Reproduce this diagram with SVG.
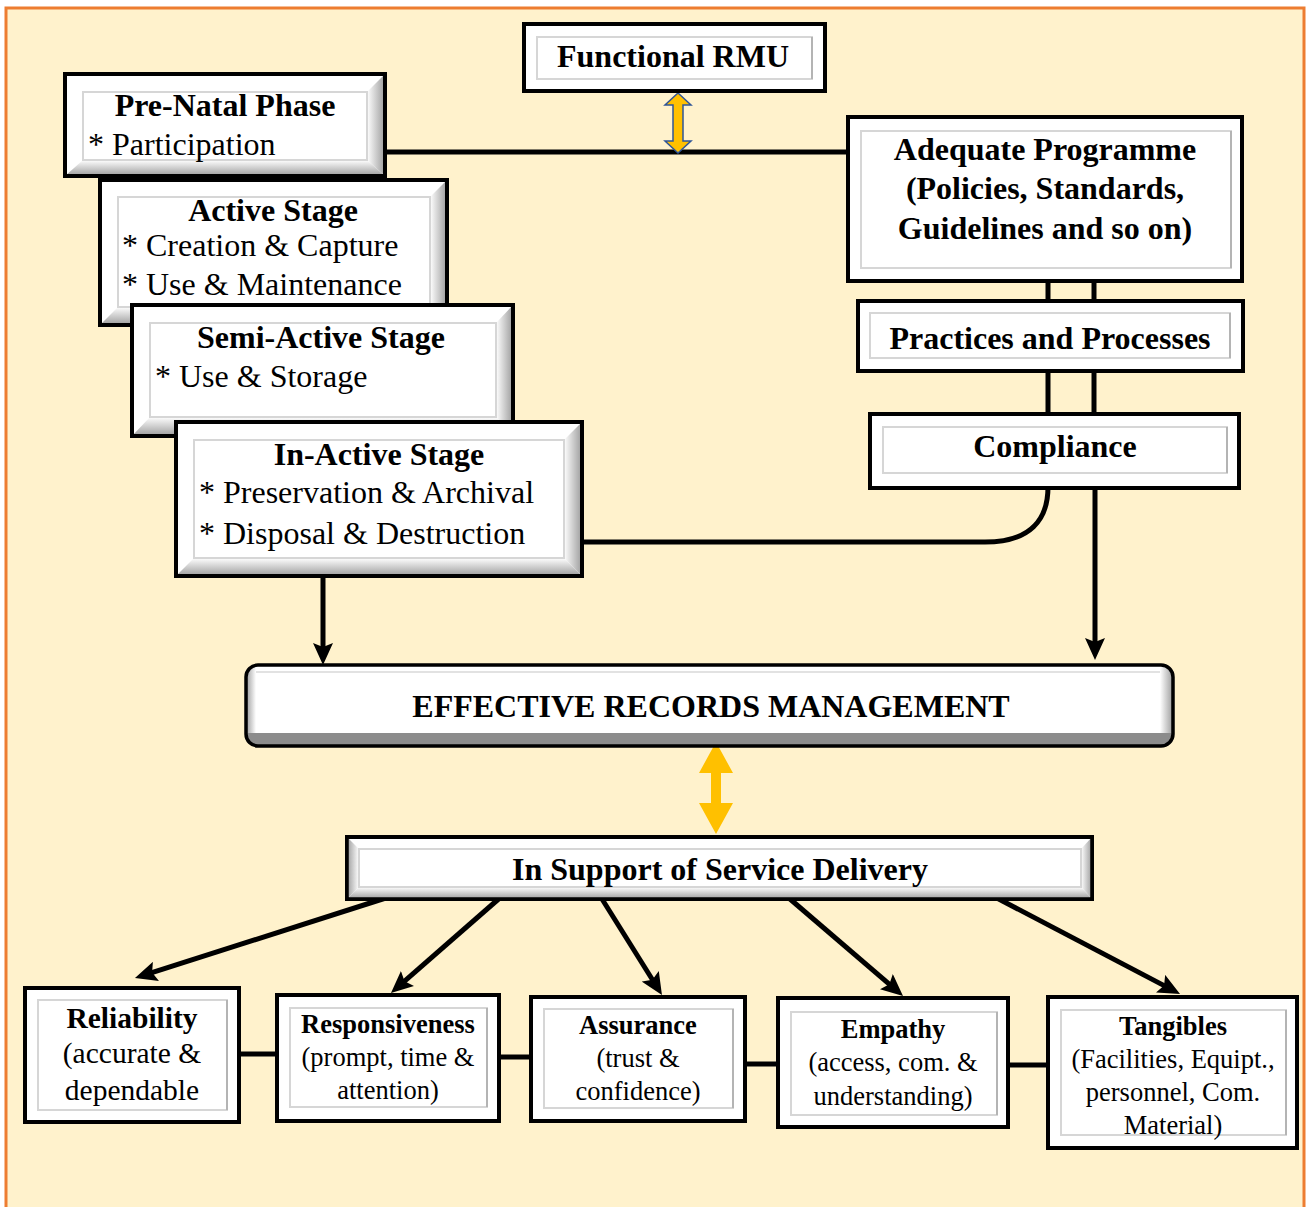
<svg xmlns="http://www.w3.org/2000/svg" width="1309" height="1207" viewBox="0 0 1309 1207">
<style>
.box{fill:#fff;stroke:#000;stroke-width:4}
.inner{fill:none;stroke:#d6d6d6;stroke-width:2}
.edge{stroke:#b4b4b4;stroke-width:2}
.t{font-family:"Liberation Serif","Times New Roman",serif;fill:#000}
.b{font-weight:bold}
.m{text-anchor:middle}
.h{font-size:32px}
.r{font-size:32px}
.s{font-size:26.5px}
.conn{stroke:#000;stroke-width:5;fill:none}
.bevR{fill:url(#gR)}
.bevB{fill:url(#gB)}
.bevL{fill:url(#gL)}
</style>
<defs>
<linearGradient id="gR" x1="0" y1="0" x2="1" y2="0"><stop offset="0" stop-color="#ffffff"/><stop offset="1" stop-color="#9c9c9c"/></linearGradient>
<linearGradient id="gL" x1="0" y1="0" x2="1" y2="0"><stop offset="0" stop-color="#9c9c9c"/><stop offset="1" stop-color="#ffffff"/></linearGradient>
<linearGradient id="gB" x1="0" y1="0" x2="0" y2="1"><stop offset="0" stop-color="#ffffff"/><stop offset="1" stop-color="#9c9c9c"/></linearGradient>
<marker id="ah" markerUnits="userSpaceOnUse" markerWidth="24" markerHeight="20" refX="10" refY="10" orient="auto"><path d="M0,0 L22,10 L0,20 L4,10 z" fill="#000"/></marker>
<clipPath id="ermClip"><rect x="246" y="665" width="927" height="81" rx="12"/></clipPath>
</defs>

<rect x="0" y="0" width="1309" height="1207" fill="#ffffff"/>
<rect x="6" y="8" width="1298" height="1220" fill="#FFF2CC" stroke="#ED7D31" stroke-width="3"/>

<g id="connectors">
<line class="conn" x1="385" y1="152" x2="848" y2="152"/>
<line class="conn" x1="1048" y1="281" x2="1048" y2="301"/>
<line class="conn" x1="1094" y1="281" x2="1094" y2="301"/>
<line class="conn" x1="1048" y1="371" x2="1048" y2="414"/>
<line class="conn" x1="1094" y1="371" x2="1094" y2="414"/>
<path class="conn" d="M582 542 H985 C1030 542 1048 520 1048 487"/>
<line class="conn" x1="323" y1="576" x2="323" y2="653" marker-end="url(#ah)"/>
<line class="conn" x1="1095" y1="488" x2="1095" y2="648" marker-end="url(#ah)"/>
<line class="conn" x1="392" y1="896" x2="146.4" y2="974.4" marker-end="url(#ah)"/>
<line class="conn" x1="502" y1="896" x2="400" y2="985.1" marker-end="url(#ah)"/>
<line class="conn" x1="602" y1="899" x2="655.6" y2="984.8" marker-end="url(#ah)"/>
<line class="conn" x1="790" y1="899" x2="893.9" y2="988.2" marker-end="url(#ah)"/>
<line class="conn" x1="993" y1="896" x2="1169.4" y2="988.4" marker-end="url(#ah)"/>
<line class="conn" stroke-width="6" x1="239" y1="1054" x2="277" y2="1054"/>
<line class="conn" stroke-width="6" x1="499" y1="1057" x2="531" y2="1057"/>
<line class="conn" stroke-width="6" x1="745" y1="1064" x2="778" y2="1064"/>
<line class="conn" stroke-width="6" x1="1008" y1="1065" x2="1048" y2="1065"/>
<polygon points="678,93 691,105 683,105 683,141 691,141 678,153 665,141 673,141 673,105 665,105" fill="#FFC000" stroke="#2F5597" stroke-width="1.5"/>
<polygon points="716,742 733,773 721,773 721,803 733,803 716,834 699,803 711,803 711,773 699,773" fill="#FFC000"/>
</g>

<g id="functional-rmu">
<rect class="box" x="524" y="24" width="301" height="67"/>
<rect class="inner" x="537" y="37" width="275" height="42"/>
<line class="edge" x1="812" y1="37" x2="812" y2="79"/>
<text class="t b m h" x="673" y="67">Functional RMU</text>
</g>

<g id="pre-natal">
<rect class="box" x="65" y="74" width="320" height="102"/>
<polygon class="bevR" points="367,92 385,74 385,176 367,160"/>
<polygon class="bevB" points="83,160 367,160 385,176 65,176"/>
<rect x="65" y="74" width="320" height="102" fill="none" stroke="#000" stroke-width="4"/>
<rect class="inner" x="83" y="92" width="284" height="68"/>
<text class="t b m h" x="225" y="116">Pre-Natal Phase</text>
<text class="t r" x="88" y="155">* Participation</text>
</g>

<g id="active-stage">
<rect class="box" x="100" y="180" width="347" height="145"/>
<polygon class="bevR" points="430,197 447,180 447,325 430,307"/>
<polygon class="bevB" points="118,307 430,307 447,325 100,325"/>
<rect x="100" y="180" width="347" height="145" fill="none" stroke="#000" stroke-width="4"/>
<rect class="inner" x="118" y="197" width="312" height="110"/>
<text class="t b m h" x="273" y="221">Active Stage</text>
<text class="t r" x="122" y="256">* Creation &amp; Capture</text>
<text class="t r" x="122" y="295">* Use &amp; Maintenance</text>
</g>

<g id="semi-active-stage">
<rect class="box" x="132" y="305" width="381" height="131"/>
<polygon class="bevR" points="496,323 513,305 513,436 496,417"/>
<polygon class="bevB" points="150,417 496,417 513,436 132,436"/>
<rect x="132" y="305" width="381" height="131" fill="none" stroke="#000" stroke-width="4"/>
<rect class="inner" x="150" y="323" width="346" height="94"/>
<text class="t b m h" x="321" y="348">Semi-Active Stage</text>
<text class="t r" x="155" y="387">* Use &amp; Storage</text>
</g>

<g id="in-active-stage">
<rect class="box" x="176" y="422" width="406" height="154"/>
<polygon class="bevR" points="564,440 582,422 582,576 564,558"/>
<polygon class="bevB" points="194,558 564,558 582,576 176,576"/>
<rect x="176" y="422" width="406" height="154" fill="none" stroke="#000" stroke-width="4"/>
<rect class="inner" x="194" y="440" width="370" height="118"/>
<text class="t b m h" x="379" y="465">In-Active Stage</text>
<text class="t r" x="199" y="503">* Preservation &amp; Archival</text>
<text class="t r" x="199" y="544">* Disposal &amp; Destruction</text>
</g>

<g id="adequate-programme">
<rect class="box" x="848" y="117" width="394" height="164"/>
<rect class="inner" x="861" y="131" width="370" height="137"/>
<line class="edge" x1="1231" y1="131" x2="1231" y2="268"/>
<text class="t b m h" x="1045" y="160">Adequate Programme</text>
<text class="t b m h" x="1045" y="199">(Policies, Standards,</text>
<text class="t b m h" x="1045" y="239">Guidelines and so on)</text>
</g>

<g id="practices-processes">
<rect class="box" x="858" y="301" width="385" height="70"/>
<rect class="inner" x="870" y="313" width="360" height="45"/>
<line class="edge" x1="1230" y1="313" x2="1230" y2="358"/>
<text class="t b m h" x="1050" y="349">Practices and Processes</text>
</g>

<g id="compliance">
<rect class="box" x="870" y="414" width="369" height="74"/>
<rect class="inner" x="883" y="427" width="344" height="46"/>
<line class="edge" x1="1227" y1="427" x2="1227" y2="473"/>
<text class="t b m h" x="1055" y="457">Compliance</text>
</g>

<g id="effective-records-management">
<rect x="246" y="665" width="927" height="81" rx="12" fill="#fff"/>
<g clip-path="url(#ermClip)">
<rect x="246" y="665" width="10" height="81" class="bevL"/>
<rect x="1160" y="665" width="13" height="81" class="bevR"/>
<rect x="246" y="733" width="927" height="13" fill="#8c8c8c"/>
<line x1="256" y1="672" x2="1160" y2="672" stroke="#e2e2e2" stroke-width="2"/>
</g>
<rect x="246" y="665" width="927" height="81" rx="12" fill="none" stroke="#000" stroke-width="3.5"/>
<text class="t b m" x="711" y="717" font-size="32">EFFECTIVE RECORDS MANAGEMENT</text>
</g>

<g id="service-delivery">
<rect class="box" x="347" y="837" width="745" height="62"/>
<polygon class="bevL" points="347,837 359,849 359,887 347,899"/>
<polygon class="bevR" points="1081,849 1092,837 1092,899 1081,887"/>
<polygon class="bevB" points="359,887 1081,887 1092,899 347,899"/>
<rect x="347" y="837" width="745" height="62" fill="none" stroke="#000" stroke-width="3.5"/>
<rect class="inner" x="359" y="849" width="722" height="38"/>
<text class="t b m" x="720" y="880" font-size="32">In Support of Service Delivery</text>
</g>

<g id="reliability">
<rect class="box" x="25" y="988" width="214" height="134"/>
<rect class="inner" x="38" y="1000" width="189" height="110"/>
<line class="edge" x1="227" y1="1000" x2="227" y2="1110"/>
<text class="t b m" x="132" y="1028" font-size="29.5">Reliability</text>
<text class="t m" x="132" y="1063" font-size="29.5">(accurate &amp;</text>
<text class="t m" x="132" y="1100" font-size="29.5">dependable</text>
</g>

<g id="responsiveness">
<rect class="box" x="277" y="995" width="222" height="126"/>
<rect class="inner" x="290" y="1008" width="197" height="99"/>
<line class="edge" x1="487" y1="1008" x2="487" y2="1107"/>
<text class="t b m s" x="388" y="1033">Responsiveness</text>
<text class="t m s" x="388" y="1066">(prompt, time &amp;</text>
<text class="t m s" x="388" y="1099">attention)</text>
</g>

<g id="assurance">
<rect class="box" x="531" y="997" width="214" height="124"/>
<rect class="inner" x="544" y="1009" width="189" height="99"/>
<line class="edge" x1="733" y1="1009" x2="733" y2="1108"/>
<text class="t b m s" x="638" y="1034">Assurance</text>
<text class="t m s" x="638" y="1067">(trust &amp;</text>
<text class="t m s" x="638" y="1100">confidence)</text>
</g>

<g id="empathy">
<rect class="box" x="778" y="998" width="230" height="129"/>
<rect class="inner" x="791" y="1012" width="206" height="103"/>
<line class="edge" x1="997" y1="1012" x2="997" y2="1115"/>
<text class="t b m s" x="893" y="1038">Empathy</text>
<text class="t m s" x="893" y="1071">(access, com. &amp;</text>
<text class="t m s" x="893" y="1105">understanding)</text>
</g>

<g id="tangibles">
<rect class="box" x="1048" y="997" width="249" height="151"/>
<rect class="inner" x="1061" y="1010" width="225" height="125"/>
<line class="edge" x1="1286" y1="1010" x2="1286" y2="1135"/>
<text class="t b m s" x="1173" y="1035">Tangibles</text>
<text class="t m s" x="1173" y="1068">(Facilities, Equipt.,</text>
<text class="t m s" x="1173" y="1101">personnel, Com.</text>
<text class="t m s" x="1173" y="1134">Material)</text>
</g>
</svg>
